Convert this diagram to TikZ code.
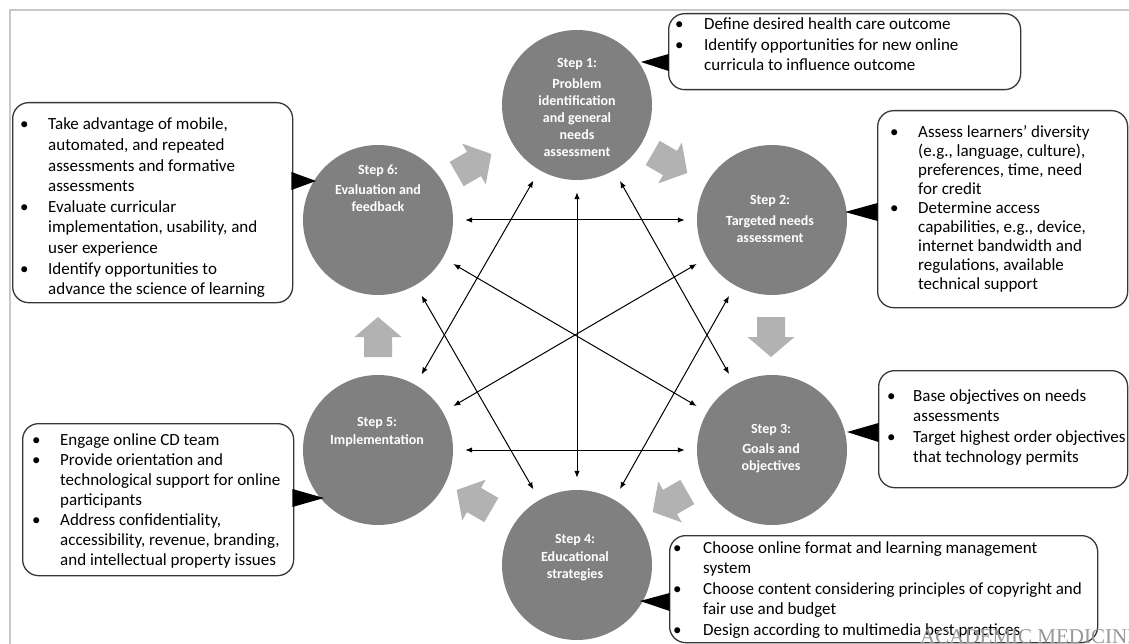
\documentclass[tikz,border=0pt]{standalone}
\usepackage{fontspec}
\setmainfont{Carlito}
\newfontfamily\wmfont{Liberation Serif}
\usetikzlibrary{arrows.meta}
\definecolor{circgray}{RGB}{128,128,128}
\definecolor{arrgray}{RGB}{178,178,178}
\definecolor{framegray}{RGB}{200,200,200}
\definecolor{boxline}{RGB}{55,55,55}
\definecolor{wmgray}{RGB}{150,150,150}
\newcommand{\blist}[2]{\begin{tabular}[t]{@{}p{#1}@{}l@{}}#2\end{tabular}}
\tikzset{
  stepcirc/.style={circle, fill=circgray, minimum size=150pt, inner sep=0pt},
  steptext/.style={text=white, font={\fontsize{14}{17}\selectfont\bfseries}, align=center, inner sep=0pt},
  callbox/.style={draw=boxline, line width=1.3pt, rounded corners=16pt, fill=white, inner sep=0pt, anchor=north west},
  link/.style={{Latex[length=7pt,width=5.5pt]}-{Latex[length=7pt,width=5.5pt]}, line width=1pt, black, shorten >=12pt, shorten <=12pt},
  pointer/.style={fill=black},
  listtext/.style={anchor=base west, inner sep=0pt, font={\fontsize{17}{20.5}\selectfont}, text=black},
  framestyle/.style={draw=framegray, line width=2.5pt},
  pics/blockarr/.style={code={
    \fill[arrgray] (-20,-14) -- (0,-14) -- (0,-23.5) -- (20,0) -- (0,23.5) -- (0,14) -- (-20,14) -- cycle;
  }}
}
\begin{document}
\begin{tikzpicture}[x=1pt,y=-1pt]
\useasboundingbox (0,0) rectangle (1129,644);
\fill[white] (0,0) rectangle (1129,644);
% frame
\coordinate (fTL) at (10,10);
\coordinate (fTR) at (1129,10);
\coordinate (fBL) at (10,644);
\draw[framestyle] (fTR) -- (fTL) -- (fBL);

% circles
\node[stepcirc] (S1) at (577,105) {};
\node[stepcirc] (S2) at (772,220) {};
\node[stepcirc] (S3) at (772,450) {};
\node[stepcirc] (S4) at (577,565) {};
\node[stepcirc] (S5) at (378,450) {};
\node[stepcirc] (S6) at (378,220) {};

% links
\draw[link] (S6) -- (S2);
\draw[link] (S5) -- (S3);
\draw[link] (S1) -- (S4);
\draw[link] (S1) -- (S5);
\draw[link] (S1) -- (S3);
\draw[link] (S6) -- (S3);
\draw[link] (S6) -- (S4);
\draw[link] (S2) -- (S5);
\draw[link] (S2) -- (S4);

% circle texts
\node[steptext] (L1) at (577,107) {Step 1:\\[4pt]Problem\\identification\\and general\\needs\\assessment};
\node[steptext] (L2) at (770,219) {Step 2:\\[4pt]Targeted needs\\assessment};
\node[steptext] (L3) at (771,448.5) {Step 3:\\[3pt]Goals and\\objectives};
\node[steptext] (L4) at (575,558) {Step 4:\\[1pt]Educational\\strategies};
\node[steptext] (L5) at (377,432) {Step 5:\\[1pt]Implementation};
\node[steptext] (L6) at (378,188.5) {Step 6:\\[3pt]Evaluation and\\feedback};

% block arrows
\pic[rotate=30] (A61) at (474,164) {blockarr};
\pic[rotate=-30] (A12) at (670,163) {blockarr};
\pic[rotate=-90] (A23) at (771,337) {blockarr};
\pic[rotate=-150] (A34) at (670,502) {blockarr};
\pic[rotate=150] (A45) at (474,500) {blockarr};
\pic[rotate=90] (A56) at (378,337) {blockarr};

% callout boxes
\node[callbox, minimum width=352pt, minimum height=76pt] (B1) at (668,13) {};
\node[callbox, minimum width=250pt, minimum height=197pt] (B2) at (877,110) {};
\node[callbox, minimum width=249pt, minimum height=117pt] (B3) at (878,370) {};
\node[callbox, minimum width=428pt, minimum height=107pt] (B4) at (669,535) {};
\node[callbox, minimum width=271pt, minimum height=152pt] (B5) at (22,423) {};
\node[callbox, minimum width=280pt, minimum height=200pt] (B6) at (12,102) {};

% pointers
\fill[pointer] (641,62) -- (668.6,54) -- (668.6,71) -- cycle;
\fill[pointer] (845,212) -- (877.6,203) -- (877.6,221) -- cycle;
\fill[pointer] (847,432) -- (878.6,423) -- (878.6,442) -- cycle;
\fill[pointer] (640,601) -- (669.6,593) -- (669.6,611) -- cycle;
\fill[pointer] (324,498) -- (292.4,489) -- (292.4,507) -- cycle;
\fill[pointer] (316,181) -- (291.4,172) -- (291.4,190) -- cycle;

% texts
\node[listtext] (T1) at (675,30) {\blist{29pt}{%
\textbullet & Define desired health care outcome\\
\textbullet & Identify opportunities for new online\\
 & curricula to influence outcome}};
\node[listtext, font={\fontsize{17}{19}\selectfont}] (T2) at (890,138) {\blist{28pt}{%
\textbullet & Assess learners’ diversity\\
 & (e.g., language, culture),\\
 & preferences, time, need\\
 & for credit\\
\textbullet & Determine access\\
 & capabilities, e.g., device,\\
 & internet bandwidth and\\
 & regulations, available\\
 & technical support}};
\node[listtext] (T3) at (887,401) {\blist{26pt}{%
\textbullet & Base objectives on needs\\
 & assessments\\
\textbullet & Target highest order objectives\\
 & that technology permits}};
\node[listtext] (T4) at (673,553) {\blist{30pt}{%
\textbullet & Choose online format and learning management\\
 & system\\
\textbullet & Choose content considering principles of copyright and\\
 & fair use and budget\\
\textbullet & Design according to multimedia best practices}};
\node[listtext, font={\fontsize{17}{20}\selectfont}] (T5) at (32,445) {\blist{28pt}{%
\textbullet & Engage online CD team\\
\textbullet & Provide orientation and\\
 & technological support for online\\
 & participants\\
\textbullet & Address confidentiality,\\
 & accessibility, revenue, branding,\\
 & and intellectual property issues}};
\node[listtext, font={\fontsize{17}{20.6}\selectfont}] (T6) at (20,130) {\blist{28pt}{%
\textbullet & Take advantage of mobile,\\
 & automated, and repeated\\
 & assessments and formative\\
 & assessments\\
\textbullet & Evaluate curricular\\
 & implementation, usability, and\\
 & user experience\\
\textbullet & Identify opportunities to\\
 & advance the science of learning}};

% watermark
\node[anchor=base west, inner sep=0pt, text=wmgray, font={\wmfont\fontsize{21}{21}\selectfont}] (WM) at (920,643) {ACADEMIC MEDICINE};
\end{tikzpicture}
\end{document}
